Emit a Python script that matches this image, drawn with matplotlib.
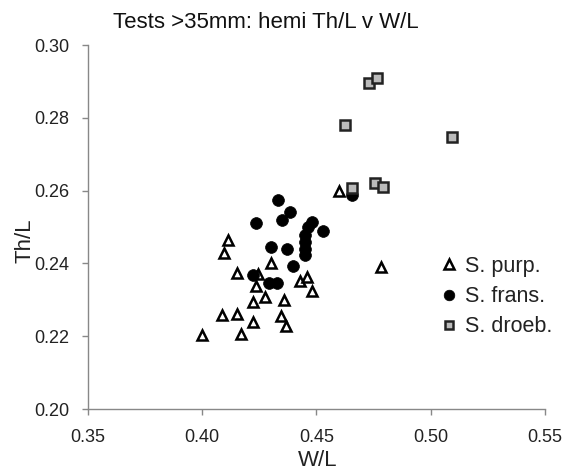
import matplotlib
matplotlib.use("Agg")
import matplotlib.pyplot as plt

plt.rcParams['font.family'] = ['Liberation Sans', 'DejaVu Sans']

purp_x = [0.4111, 0.4095, 0.4301, 0.4151, 0.4245, 0.4235, 0.4275, 0.4221, 0.4359,
          0.4428, 0.4457, 0.4479, 0.4088, 0.4151, 0.4223, 0.4345, 0.4367, 0.3998,
          0.4170, 0.4598, 0.4782]
purp_y = [0.2464, 0.2428, 0.2400, 0.2373, 0.2371, 0.2338, 0.2307, 0.2295, 0.2299,
          0.2352, 0.2363, 0.2325, 0.2258, 0.2260, 0.2238, 0.2256, 0.2228, 0.2203,
          0.2206, 0.2599, 0.2390]

frans_x = [0.4330, 0.4384, 0.4348, 0.4235, 0.4479, 0.4464, 0.4530, 0.4450, 0.4450,
           0.4450, 0.4450, 0.4301, 0.4370, 0.4398, 0.4221, 0.4294, 0.4325, 0.4654]
frans_y = [0.2574, 0.2542, 0.2519, 0.2512, 0.2515, 0.2501, 0.2490, 0.2478, 0.2459,
           0.2440, 0.2423, 0.2444, 0.2439, 0.2393, 0.2367, 0.2345, 0.2345, 0.2588]

droeb_x = [0.4731, 0.4763, 0.4625, 0.5094, 0.4654, 0.4756, 0.4790]
droeb_y = [0.2896, 0.2909, 0.2780, 0.2746, 0.2606, 0.2620, 0.2611]

labels = ['S. purp.', 'S. frans.', 'S. droeb.']
xticks = [0.35, 0.40, 0.45, 0.50, 0.55]
yticks = [0.20, 0.22, 0.24, 0.26, 0.28, 0.30]

W, H = 564, 471
fig = plt.figure(figsize=(W/100, H/100), dpi=100)
ax = fig.add_axes([88/W, 1 - 409/H, (545-88)/W, (409-45)/H])

ax.plot(purp_x, purp_y, linestyle='none', marker='^', markersize=7.5,
        markerfacecolor='white', markeredgecolor='black', markeredgewidth=1.8,
        label=labels[0])
ax.plot(frans_x, frans_y, linestyle='none', marker='o', markersize=8.5,
        markerfacecolor='black', markeredgecolor='black', markeredgewidth=0.5,
        label=labels[1])
ax.plot(droeb_x, droeb_y, linestyle='none', marker='s', markersize=7,
        markerfacecolor='#BBBBBB', markeredgecolor='#222222', markeredgewidth=1.8,
        label=labels[2])

ax.set_xlim(0.35, 0.55)
ax.set_ylim(0.20, 0.30)
ax.set_xticks(xticks)
ax.set_yticks(yticks)
ax.set_xticklabels([f'{v:.2f}' for v in xticks])
ax.set_yticklabels([f'{v:.2f}' for v in yticks])
for s in ['top', 'right']:
    ax.spines[s].set_visible(False)
for s in ['left', 'bottom']:
    ax.spines[s].set_color('#888888')
    ax.spines[s].set_linewidth(1.0)
ax.tick_params(direction='out', length=4.5, width=1.0, color='#888888',
               labelsize=13, labelcolor='#222222')
ax.tick_params(axis='y', pad=9)
ax.tick_params(axis='x', pad=10)

ax.set_xlabel('W/L', fontsize=16, color='#222222')
ax.set_ylabel('Th/L', fontsize=16, color='#222222')
ax.xaxis.set_label_coords((318-88)/(545-88), -(460-409)/(409-45))
ax.yaxis.set_label_coords(-(88-25)/(545-88), (409-241)/(409-45))
ax.xaxis.label.set_va('center')
ax.yaxis.label.set_va('center')

fig.text(266/W, 1 - 22/H, 'Tests >35mm: hemi Th/L v W/L', ha='center', va='center',
         fontsize=16, color='#111111')

leg = ax.legend(loc='upper left', bbox_to_anchor=(439/W, 1 - 256/H),
                bbox_transform=fig.transFigure, frameon=False, borderpad=0,
                fontsize=15.5, handletextpad=0.3, labelspacing=0.42, handlelength=0.9,
                markerscale=0.9, borderaxespad=0)
for t in leg.get_texts():
    t.set_color('#222222')

fig.savefig('out.png', dpi=100)
